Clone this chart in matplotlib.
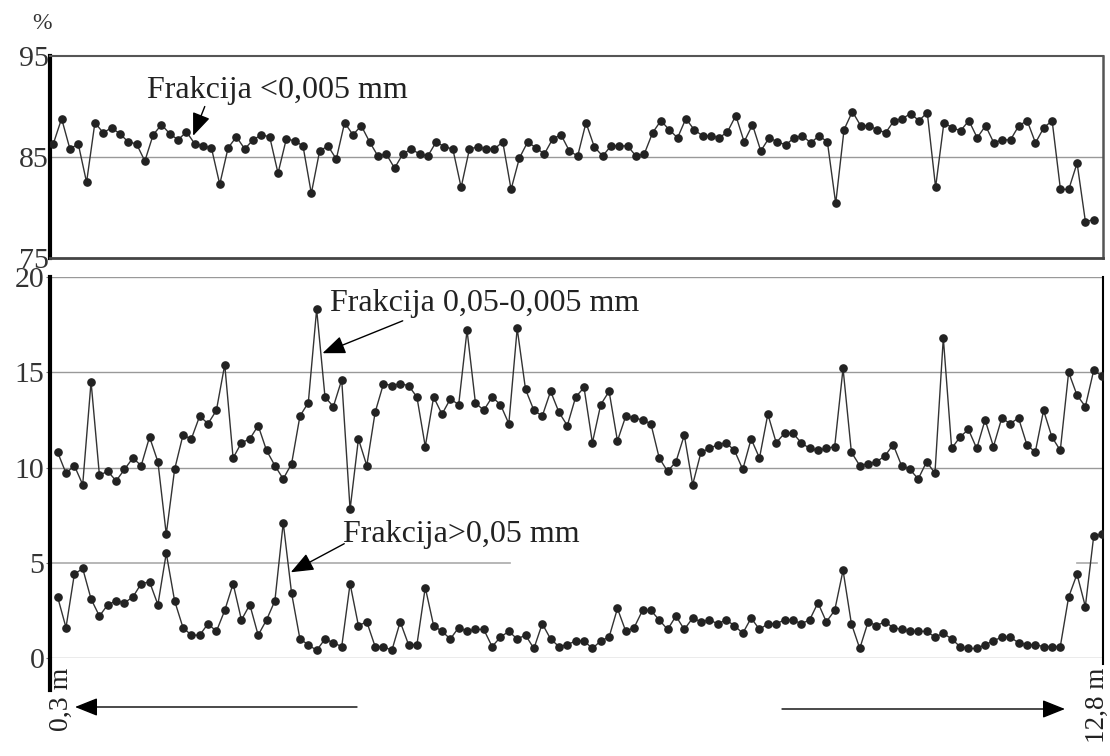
import matplotlib
matplotlib.use("Agg")
import matplotlib.pyplot as plt

plt.rcParams['font.family'] = ['Liberation Serif', 'DejaVu Serif']

# fraction < 0,005 mm (top panel, %)
clay = [86.3, 88.8, 85.8, 86.3, 82.5, 88.4, 87.4, 87.9, 87.3, 86.5,
        86.3, 84.6, 87.2, 88.2, 87.3, 86.7, 87.5, 86.3, 86.1, 85.9,
        82.3, 85.9, 87.0, 85.8, 86.7, 87.2, 87.0, 83.4, 86.8, 86.6,
        86.1, 81.4, 85.6, 86.1, 84.8, 88.4, 87.2, 88.1, 86.5, 85.1,
        85.3, 83.9, 85.3, 85.8, 85.3, 85.1, 86.5, 86.0, 85.8, 82.0,
        85.8, 86.0, 85.8, 85.8, 86.5, 81.8, 84.9, 86.5, 85.9, 85.3,
        86.8, 87.2, 85.6, 85.1, 88.4, 86.0, 85.1, 86.1, 86.1, 86.1,
        85.1, 85.3, 87.4, 88.6, 87.7, 86.9, 88.8, 87.7, 87.1, 87.1,
        86.9, 87.5, 89.1, 86.5, 88.2, 85.6, 86.9, 86.5, 86.2, 86.9,
        87.1, 86.4, 87.1, 86.5, 80.4, 87.7, 89.5, 88.1, 88.1, 87.7,
        87.4, 88.6, 88.8, 89.3, 88.6, 89.4, 82.0, 88.4, 87.9, 87.6,
        88.6, 86.9, 88.1, 86.4, 86.7, 86.7, 88.1, 88.6, 86.4, 87.9,
        88.6, 81.8, 81.8, 84.4, 78.6, 78.8]

# fraction 0,05-0,005 mm
silt = [10.8, 9.7, 10.1, 9.1, 14.5, 9.6, 9.8, 9.3, 9.9, 10.5,
        10.1, 11.6, 10.3, 6.5, 9.9, 11.7, 11.5, 12.7, 12.3, 13.0,
        15.4, 10.5, 11.3, 11.5, 12.2, 10.9, 10.1, 9.4, 10.2, 12.7,
        13.4, 18.3, 13.7, 13.2, 14.6, 7.8, 11.5, 10.1, 12.9, 14.4,
        14.3, 14.4, 14.3, 13.7, 11.1, 13.7, 12.8, 13.6, 13.3, 17.2,
        13.4, 13.0, 13.7, 13.3, 12.3, 17.3, 14.1, 13.0, 12.7, 14.0,
        12.9, 12.2, 13.7, 14.2, 11.3, 13.3, 14.0, 11.4, 12.7, 12.6,
        12.5, 12.3, 10.5, 9.8, 10.3, 11.7, 9.1, 10.8, 11.0, 11.2,
        11.3, 10.9, 9.9, 11.5, 10.5, 12.8, 11.3, 11.8, 11.8, 11.3,
        11.0, 10.9, 11.0, 11.1, 15.2, 10.8, 10.1, 10.2, 10.3, 10.6,
        11.2, 10.1, 9.9, 9.4, 10.3, 9.7, 16.8, 11.0, 11.6, 12.0,
        11.0, 12.5, 11.1, 12.6, 12.3, 12.6, 11.2, 10.8, 13.0, 11.6,
        10.9, 15.0, 13.8, 13.2, 15.1, 14.8]

# fraction > 0,05 mm
sand = [3.2, 1.6, 4.4, 4.7, 3.1, 2.2, 2.8, 3.0, 2.9, 3.2,
        3.9, 4.0, 2.8, 5.5, 3.0, 1.6, 1.2, 1.2, 1.8, 1.4,
        2.5, 3.9, 2.0, 2.8, 1.2, 2.0, 3.0, 7.1, 3.4, 1.0,
        0.7, 0.4, 1.0, 0.8, 0.6, 3.9, 1.7, 1.9, 0.6, 0.6,
        0.4, 1.9, 0.7, 0.7, 3.7, 1.7, 1.4, 1.0, 1.6, 1.4,
        1.5, 1.5, 0.6, 1.1, 1.4, 1.0, 1.2, 0.5, 1.8, 1.0,
        0.6, 0.7, 0.9, 0.9, 0.5, 0.9, 1.1, 2.6, 1.4, 1.6,
        2.5, 2.5, 2.0, 1.5, 2.2, 1.5, 2.1, 1.9, 2.0, 1.8,
        2.0, 1.7, 1.3, 2.1, 1.5, 1.8, 1.8, 2.0, 2.0, 1.8,
        2.0, 2.9, 1.9, 2.5, 4.6, 1.8, 0.5, 1.9, 1.7, 1.9,
        1.6, 1.5, 1.4, 1.4, 1.4, 1.1, 1.3, 1.0, 0.6, 0.5,
        0.5, 0.7, 0.9, 1.1, 1.1, 0.8, 0.7, 0.7, 0.6, 0.6,
        0.6, 3.2, 4.4, 2.7, 6.4, 6.5]

x = list(range(len(clay)))

fig = plt.figure(figsize=(11.1, 7.56), dpi=100)
line_kw = dict(color="#333333", lw=1.0, marker="o", ms=5.2,
               mfc="#222222", mec="#222222", zorder=3)
arrow_kw = dict(arrowstyle="-|>,head_length=0.7,head_width=0.28", color="black",
                lw=1.0, mutation_scale=20, shrinkA=0, shrinkB=0)

# ---- top panel
ax1 = fig.add_axes([0.045, 0.6587, 0.9486, 0.2672])
ax1.plot(x, clay, **line_kw)
ax1.axhline(85, color="#999999", lw=1, zorder=0)
ax1.set_xlim(-0.4, 126.1)
ax1.set_ylim(75, 95)
ax1.set_yticks([75, 85, 95])
ax1.set_xticks([])
ax1.tick_params(axis="y", labelsize=21.5, length=0, pad=1, labelcolor="#333333")
ax1.spines["left"].set_linewidth(3)
ax1.spines["left"].set_color("black")
ax1.spines["top"].set_linewidth(1.5)
ax1.spines["top"].set_color("#555555")
ax1.spines["bottom"].set_linewidth(2)
ax1.spines["bottom"].set_color("#444444")
ax1.spines["right"].set_linewidth(1.8)
ax1.spines["right"].set_color("#555555")
ax1.text(-0.008, 1.11, "%", transform=ax1.transAxes, fontsize=17,
         ha="center", va="bottom", color="#333333")
ax1.annotate("", xy=(16.8, 87.1), xytext=(18.2, 90.0), arrowprops=arrow_kw)
ax1.text(11.3, 90.85, "Frakcija <0,005 mm", fontsize=23, va="baseline", color="#222222")

# ---- bottom panel
ax2 = fig.add_axes([0.045, 0.1296, 0.9486, 0.504])
ax2.plot(x, silt, **line_kw)
ax2.plot(x, sand, **line_kw)
for yv in [0, 10, 15, 20]:
    ax2.axhline(yv, color="#999999", lw=1, zorder=0)
ax2.axhline(5, xmin=0, xmax=0.437, color="#aaaaaa", lw=1.2, zorder=0)
ax2.axhline(5, xmin=0.975, xmax=0.994, color="#aaaaaa", lw=1.2, zorder=0)
ax2.set_xlim(-0.92, 125.1)
ax2.set_ylim(0, 20)
ax2.set_yticks([0, 5, 10, 15, 20])
ax2.set_xticks([])
ax2.tick_params(axis="y", labelsize=21.5, length=3, pad=1, color="#777777",
                labelcolor="#333333")
ax2.spines["top"].set_visible(False)
ax2.spines["bottom"].set_visible(False)
ax2.spines["left"].set_linewidth(3)
ax2.spines["left"].set_color("black")
ax2.spines["left"].set_bounds(-1.7, 20)
ax2.spines["right"].set_linewidth(1.5)
ax2.spines["right"].set_color("black")
ax2.spines["right"].set_bounds(-0.3, 20)

ax2.annotate("", xy=(31.7, 16.0), xytext=(41.3, 17.7), arrowprops=arrow_kw)
ax2.text(32.6, 18.2, "Frakcija 0,05-0,005 mm", fontsize=23, va="baseline", color="#222222")
ax2.annotate("", xy=(27.9, 4.5), xytext=(34.3, 6.0), arrowprops=arrow_kw)
ax2.text(34.1, 6.1, "Frakcija>0,05 mm", fontsize=23, va="baseline", color="#222222")

# depth labels and direction arrows under the chart
fig.text(61 / 1110, 1 - 668 / 756, "0,3 m", rotation=90, fontsize=20,
         ha="center", va="top", color="#222222")
fig.text(1097 / 1110, 1 - 668 / 756, "12,8 m", rotation=90, fontsize=19.5,
         ha="center", va="top", color="#222222")
ax2.annotate("", xy=(75 / 1110, 1 - 707 / 756), xytext=(357 / 1110, 1 - 707 / 756),
             xycoords="figure fraction", textcoords="figure fraction",
             arrowprops=arrow_kw)
ax2.annotate("", xy=(1065 / 1110, 1 - 709 / 756), xytext=(782 / 1110, 1 - 709 / 756),
             xycoords="figure fraction", textcoords="figure fraction",
             arrowprops=arrow_kw)

fig.savefig("out.png", dpi=100)
